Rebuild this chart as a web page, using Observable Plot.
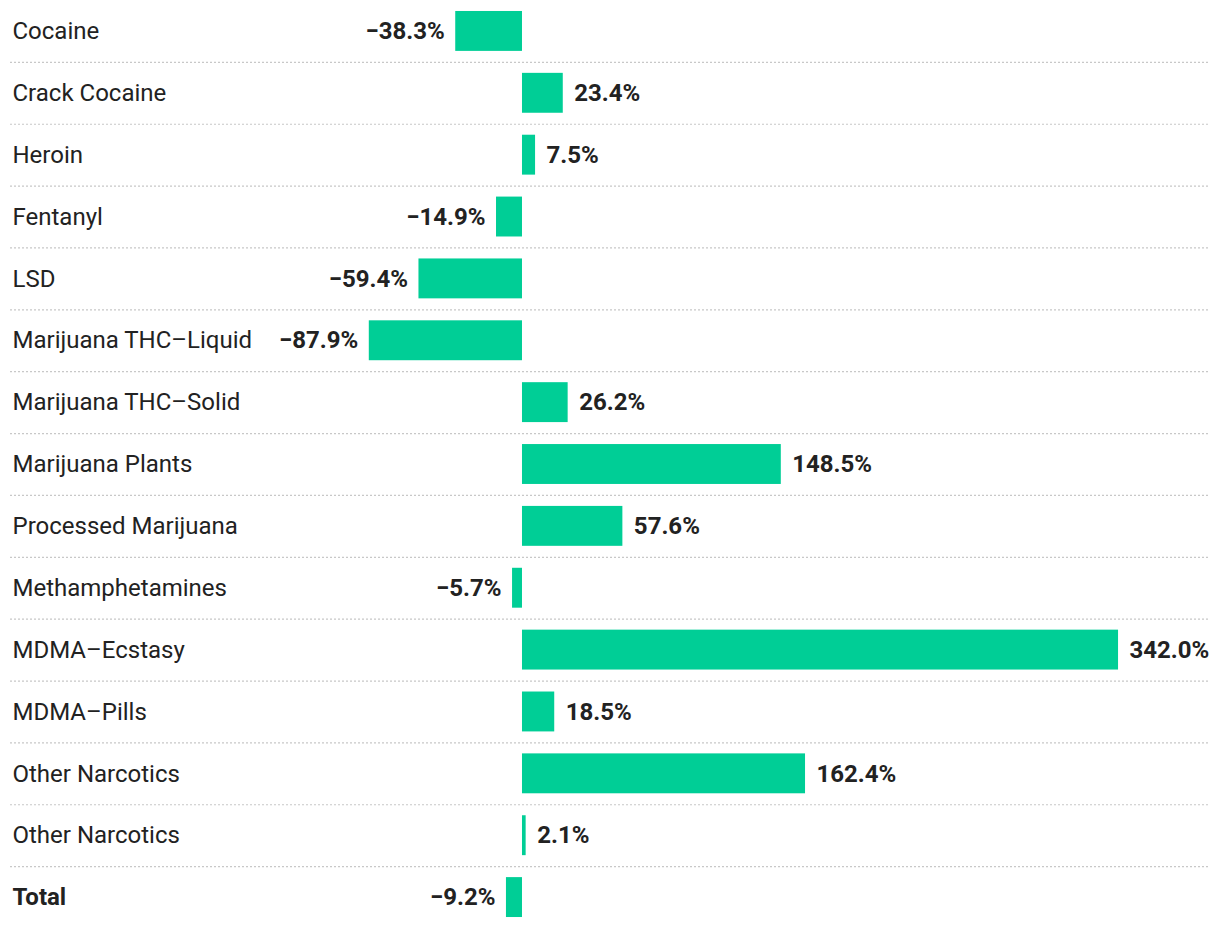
<!DOCTYPE html>
<html>
<head>
<meta charset="utf-8">
<script src="https://cdn.jsdelivr.net/npm/d3@7"></script>
<script src="https://cdn.jsdelivr.net/npm/@observablehq/plot@0.6"></script>
<style>
  html, body { margin: 0; padding: 0; background: #fff; }
  #chart { width: 1220px; }
  svg { font-family: Roboto, sans-serif; }
</style>
</head>
<body>
<div id="chart"></div>
<script>
const categories = [
  "Cocaine", "Crack Cocaine", "Heroin", "Fentanyl", "LSD",
  "Marijuana THC–Liquid", "Marijuana THC–Solid", "Marijuana Plants",
  "Processed Marijuana", "Methamphetamines", "MDMA–Ecstasy", "MDMA–Pills",
  "Other Narcotics", "Other Narcotics", "Total"
];
const changes = [
  -38.3, 23.4, 7.5, -14.9, -59.4,
  -87.9, 26.2, 148.5,
  57.6, -5.7, 342.0, 18.5,
  162.4, 2.1, -9.2
];

const data = categories.map((name, i) => ({ i, name, value: changes[i], total: name === "Total" }));
const fmt = d3.format(".1f");
const last = data.length - 1;
const label = d => fmt(d.value) + "%";

const plot = Plot.plot({
  width: 1220,
  height: 928,
  marginLeft: 0,
  marginRight: 0,
  marginTop: 0,
  marginBottom: 0,
  x: { domain: [-299.5, 400.5], axis: null },
  y: { type: "band", domain: data.map(d => d.i), paddingInner: 0.355, paddingOuter: 0.1775, round: false, axis: null },
  marks: [
    Plot.ruleY(data.filter(d => d.i < last), {
      y: "i", dy: 30.93, stroke: "#c8c8c8", strokeWidth: 1.2, strokeDasharray: "2,2",
      insetLeft: 10, insetRight: 12
    }),
    Plot.barX(data, { x1: 0, x2: "value", y: "i", fill: "#00ce96" }),
    Plot.text(data.filter(d => !d.total), {
      y: "i", text: "name", frameAnchor: "left", dx: 12, textAnchor: "start",
      fontSize: 24, fill: "#222", fontWeight: "normal"
    }),
    Plot.text(data.filter(d => d.total), {
      y: "i", text: "name", frameAnchor: "left", dx: 12, textAnchor: "start",
      fontSize: 24, fill: "#222", fontWeight: "bold"
    }),
    Plot.text(data.filter(d => d.value < 0), {
      x: "value", y: "i", text: label, textAnchor: "end", dx: -11,
      fontSize: 24, fontWeight: "bold", fill: "#222"
    }),
    Plot.text(data.filter(d => d.value >= 0), {
      x: "value", y: "i", text: label, textAnchor: "start", dx: 11,
      fontSize: 24, fontWeight: "bold", fill: "#222"
    })
  ]
});
document.getElementById("chart").appendChild(plot);
</script>
</body>
</html>
